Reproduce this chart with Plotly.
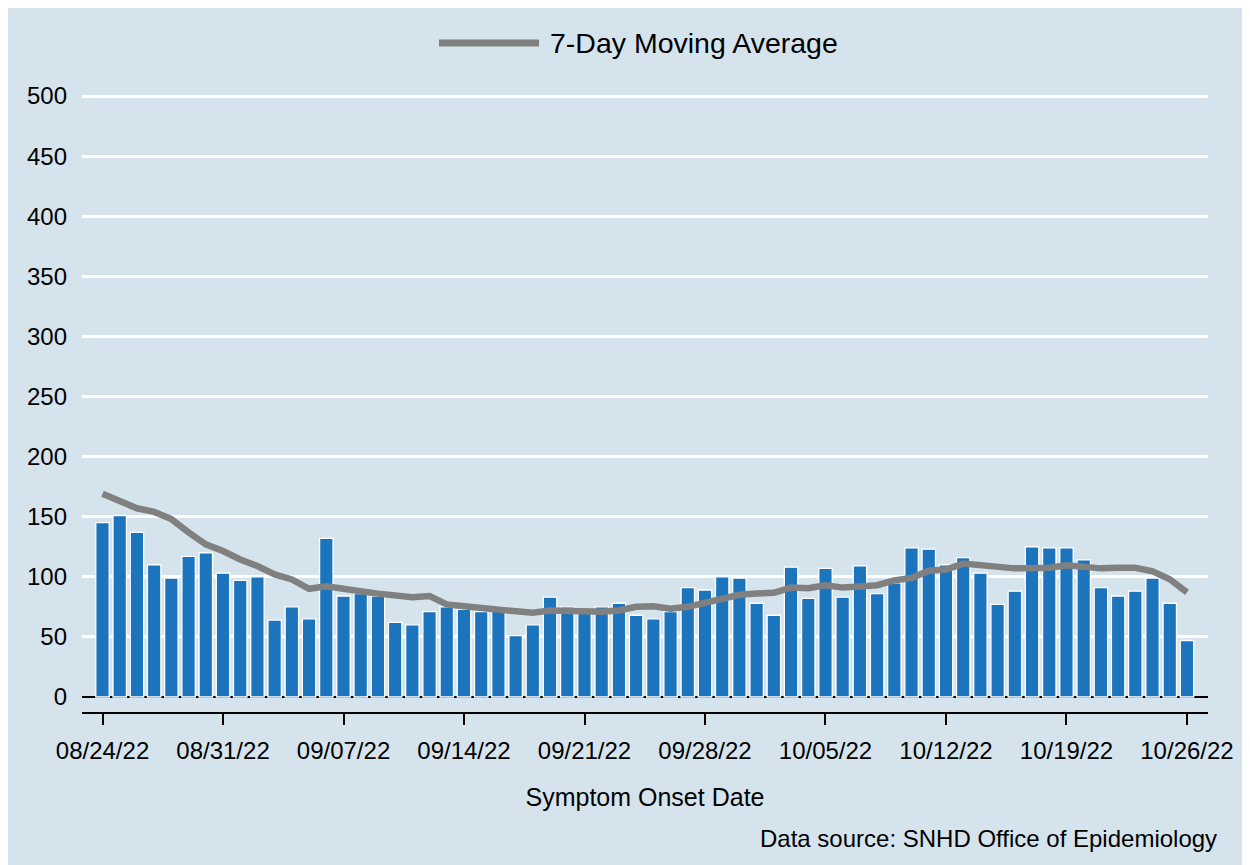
import plotly.graph_objects as go
import pandas as pd

# ---- data ----
dates = pd.date_range("2022-08-24", "2022-10-26", freq="D")
daily_cases = [
    145, 151, 137, 110, 99, 117, 120, 103, 97, 100,
    64, 75, 65, 132, 84, 86, 84, 62, 60, 71,
    75, 73, 71, 75, 51, 60, 83, 75, 70, 75,
    78, 68, 65, 71, 91, 89, 100, 99, 78, 68,
    108, 82, 107, 83, 109, 86, 95, 124, 123, 110,
    116, 103, 77, 88, 125, 124, 124, 114, 91, 84,
    88, 99, 78, 47,
]
moving_avg = [
    169, 162.5, 157, 154, 148, 137, 127, 121.4, 114.4, 109,
    102, 97.8, 90, 92, 89.4, 88, 86, 85, 83, 84,
    77, 75.5, 74, 72.5, 70.5, 70, 72, 71.5, 71, 71,
    72, 75, 75.5, 73.5, 75, 78, 82, 85, 86, 86.7,
    91, 90.5, 93, 91, 92, 93, 97, 99, 105, 106,
    111, 109.5, 108.5, 107, 107, 107.5, 109.5, 108.5, 107, 107.5,
    107.5, 104.5, 98, 87,
]
y_ticks = [0, 50, 100, 150, 200, 250, 300, 350, 400, 450, 500]
legend_label = "7-Day Moving Average"
x_title = "Symptom Onset Date"
source_note = "Data source: SNHD Office of Epidemiology"

# ---- styling / layout ----
OFF = 8  # page body margin
W, H = 1250, 865
ML, MR, MT, MB = 74, 50, 76, 161
PW, PH = W - ML - MR, H - MT - MB
BG = "#d5e4ec"
BAR = "#1c75bc"
LINE = "#808080"
FONT = "Liberation Sans, Arial, sans-serif"


def px(xp):
    return (xp - OFF - ML) / PW


def py(yp):
    return (H - MB - (yp - OFF)) / PH


x0 = dates[0] - pd.Timedelta(hours=28.6)
x1 = dates[-1] + pd.Timedelta(hours=29.3)

fig = go.Figure()
fig.add_trace(go.Bar(
    x=dates, y=daily_cases, name="Cases",
    marker=dict(color=BAR, line=dict(color="white", width=1.3)),
))
fig.add_trace(go.Scatter(
    x=dates, y=moving_avg, mode="lines", name=legend_label,
    line=dict(color=LINE, width=6.5),
))

fig.update_layout(
    width=W, height=H,
    margin=dict(l=ML, r=MR, t=MT, b=MB),
    paper_bgcolor=BG,
    plot_bgcolor=BG,
    font=dict(family=FONT, size=24, color="black"),
    showlegend=False,
    bargap=0.22,
    xaxis=dict(
        type="date", range=[x0, x1],
        tick0="2022-08-24", dtick=7 * 86400000, tickformat="%m/%d/%y",
        showgrid=False, showline=True, linecolor="black", linewidth=2,
        ticks="outside", ticklen=11, tickwidth=2, tickcolor="black",
        ticklabelstandoff=5,
        tickfont=dict(size=24),
        title=dict(text=x_title, font=dict(size=25), standoff=26),
        zeroline=False,
    ),
    yaxis=dict(
        range=[-12.5, 510], tickvals=y_ticks,
        showgrid=True, gridcolor="white", gridwidth=3,
        zeroline=True, zerolinecolor="black", zerolinewidth=2,
        showline=False, ticks="", ticklabelstandoff=14,
        tickfont=dict(size=24),
    ),
    shapes=[
        dict(type="line", xref="paper", yref="paper",
             x0=px(439), x1=px(539), y0=py(43), y1=py(43),
             line=dict(color=LINE, width=7)),
    ],
    annotations=[
        dict(text=legend_label, xref="paper", yref="paper",
             x=px(548), y=py(43), xanchor="left", yanchor="middle",
             showarrow=False, font=dict(size=28.5)),
        dict(text=source_note, xref="paper", yref="paper",
             x=px(1219), y=py(838), xanchor="right", yanchor="middle",
             showarrow=False, font=dict(size=24)),
    ],
)

fig.write_html("out.html")
